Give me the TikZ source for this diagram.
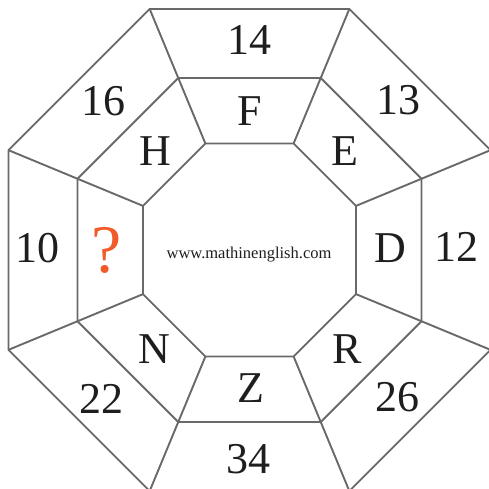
\documentclass[tikz,border=0pt]{standalone}
\usepackage{fontspec}
\setmainfont{Liberation Serif}
\usetikzlibrary{calc}
\definecolor{edgegray}{RGB}{105,105,108}
\definecolor{qorange}{RGB}{241,90,41}
\definecolor{txt}{RGB}{30,30,30}
\begin{document}
\begin{tikzpicture}[x=1pt,y=-1pt,
  edge/.style={draw=edgegray,line width=1.9pt,line join=miter},
  big/.style={font=\fontsize{44}{44}\selectfont,text=txt,inner sep=0pt},
  qmark/.style={font=\fontsize{68}{68}\selectfont,text=qorange,inner sep=0pt},
  web/.style={font=\fontsize{16.5}{16.5}\selectfont,text=txt,inner sep=0pt}]
\useasboundingbox (0,0) rectangle (489,489);
\coordinate (c) at (249.5,250);
\foreach \k in {1,...,8}{
  \pgfmathsetmacro{\ang}{22.5+45*(\k-1)}
  \coordinate (o\k) at ($(c)+(\ang:260.9)$);
  \coordinate (m\k) at ($(c)+(\ang:186.2)$);
  \coordinate (i\k) at ($(c)+(\ang:115.3)$);
}
\draw[edge] (o1)--(o2)--(o3)--(o4)--(o5)--(o6)--(o7)--(o8)--cycle;
\draw[edge] (m1)--(m2)--(m3)--(m4)--(m5)--(m6)--(m7)--(m8)--cycle;
\draw[edge] (i1)--(i2)--(i3)--(i4)--(i5)--(i6)--(i7)--(i8)--cycle;
\foreach \k in {1,...,8}{
  \draw[edge] (o\k)--(m\k)--(i\k);
}
\node[big] (n14) at (249,40) {14};
\node[big] (n16) at (103,101) {16};
\node[big] (n13) at (398,100) {13};
\node[big] (nF) at (250,111) {F};
\node[big] (nH) at (155,151) {H};
\node[big] (nE) at (345,151) {E};
\node[big] (n10) at (37,248) {10};
\node[qmark] (nq) at (107,250) {?};
\node[big] (nD) at (390,248) {D};
\node[big] (n12) at (456,247) {12};
\node[big] (nN) at (154,349) {N};
\node[big] (nR) at (347,349) {R};
\node[big] (nZ) at (251,388) {Z};
\node[big] (n22) at (101,399) {22};
\node[big] (n26) at (397,397) {26};
\node[big] (n34) at (248,459) {34};
\node[web] (w) at (249,255) {www.mathinenglish.com};
\end{tikzpicture}
\end{document}
